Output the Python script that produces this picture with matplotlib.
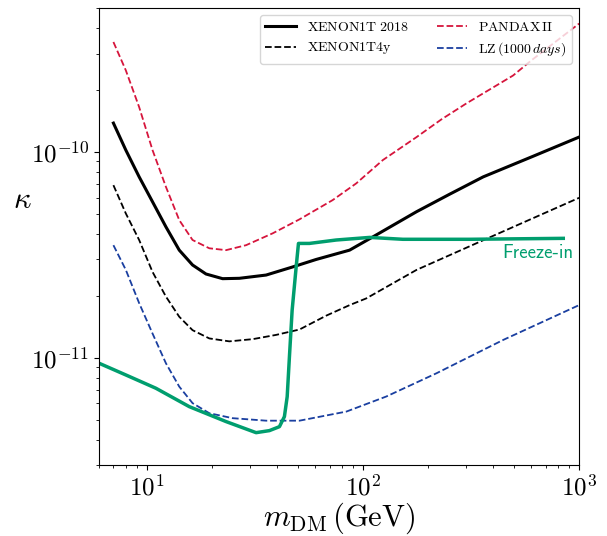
import matplotlib
matplotlib.use("Agg")
import matplotlib.pyplot as plt

plt.rcParams["mathtext.fontset"] = "cm"
plt.rcParams["font.family"] = "serif"
plt.rcParams["font.serif"] = ["cmr10"]
plt.rcParams["axes.formatter.use_mathtext"] = True

# XENON1T 2018 (solid black)
x_xenon = [7.0, 7.99, 9.21, 10.62, 12.25, 14.12, 16.27, 18.77, 22.41, 26.79, 35.62, 47.31,
           60.7, 86.7, 111, 177, 252, 360, 614, 1000]
y_xenon = [1.38e-10, 1.02e-10, 7.56e-11, 5.72e-11, 4.32e-11, 3.33e-11, 2.82e-11, 2.55e-11,
           2.42e-11, 2.43e-11, 2.52e-11, 2.76e-11, 3.00e-11, 3.33e-11, 3.86e-11, 5.12e-11,
           6.23e-11, 7.56e-11, 9.53e-11, 1.18e-10]

# XENON1T 4y projection (dashed black)
x_xenon4y = [7.0, 7.99, 9.21, 10.62, 12.25, 14.12, 16.27, 19.45, 24.07, 30.88, 39.63, 50.83,
             67.6, 86.7, 103.5, 177, 360, 1000]
y_xenon4y = [6.89e-11, 5.02e-11, 3.73e-11, 2.61e-11, 1.98e-11, 1.58e-11, 1.36e-11, 1.24e-11,
             1.20e-11, 1.23e-11, 1.29e-11, 1.37e-11, 1.60e-11, 1.80e-11, 1.94e-11, 2.67e-11,
             3.72e-11, 5.98e-11]

# PANDAX II (dashed red)
x_pandax = [7.0, 7.99, 9.21, 10.62, 12.25, 14.12, 16.27, 19.45, 23.25, 28.77, 38.22, 50.83,
            72.4, 93.1, 123.5, 177, 231, 301, 495, 603, 1000]
y_pandax = [3.42e-10, 2.49e-10, 1.65e-10, 1.02e-10, 6.76e-11, 4.66e-11, 3.73e-11, 3.40e-11,
            3.33e-11, 3.52e-11, 4.02e-11, 4.70e-11, 5.83e-11, 7.03e-11, 9.12e-11, 1.18e-10,
            1.44e-10, 1.72e-10, 2.35e-10, 2.79e-10, 4.2e-10]

# LZ 1000 days (dashed blue)
x_lz = [7.0, 7.99, 9.21, 10.62, 12.25, 14.12, 16.27, 19.45, 24.94, 35.62, 50.83, 83.8, 128,
        219, 446, 1000]
y_lz = [3.52e-11, 2.67e-11, 1.84e-11, 1.31e-11, 9.39e-12, 7.23e-12, 6.01e-12, 5.37e-12,
        5.08e-12, 4.94e-12, 4.94e-12, 5.47e-12, 6.47e-12, 8.40e-12, 1.22e-11, 1.80e-11]

# Freeze-in line (solid green)
x_freeze = [6.0, 7.99, 11.01, 15.71, 23.25, 32.02, 36.90, 41.06, 43.29, 44.59, 45.67, 47.01,
            49.07, 50.29, 56.5, 75.2, 107.4, 153, 312, 845]
y_freeze = [9.4e-12, 8.24e-12, 7.10e-12, 5.78e-12, 4.89e-12, 4.32e-12, 4.42e-12, 4.62e-12,
            5.17e-12, 6.46e-12, 1.01e-11, 1.70e-11, 2.76e-11, 3.59e-11, 3.59e-11, 3.73e-11,
            3.84e-11, 3.76e-11, 3.76e-11, 3.80e-11]

x_ticks = [10, 100, 1000]
y_ticks = [1e-11, 1e-10]

fig = plt.figure(figsize=(6.07, 5.36), dpi=100)
ax = fig.add_axes([0.163, 0.132, 0.791, 0.853])

ax.plot(x_xenon, y_xenon, color="black", lw=2.2, label=r"$\mathrm{XENON1T\ 2018}$")
ax.plot(x_xenon4y, y_xenon4y, color="black", lw=1.3, ls="--", label=r"$\mathrm{XENON1T4y}$")
ax.plot(x_pandax, y_pandax, color="#d6153c", lw=1.3, ls="--", label=r"$\mathrm{PANDAX\,II}$")
ax.plot(x_lz, y_lz, color="#1a3fa0", lw=1.3, ls="--", label=r"$\mathrm{LZ}\,(1000\,days)$")
ax.plot(x_freeze, y_freeze, color="#009e6e", lw=2.5)
ax.text(645, 3.22e-11, "Freeze-in", color="#009e6e", fontsize=13.5,
        family=["cmss10", "DejaVu Sans"], ha="center", va="center")

ax.set_xscale("log")
ax.set_yscale("log")
ax.set_xticks(x_ticks)
ax.set_yticks(y_ticks)
ax.set_xlim(6, 1000)
ax.set_ylim(3e-12, 5e-10)
ax.tick_params(labelsize=18)
ax.set_xlabel(r"$m_{\mathrm{DM}}\,(\mathrm{GeV})$", fontsize=22, labelpad=0)
ax.set_ylabel(r"$\kappa$", fontsize=22, rotation=0)
ax.yaxis.set_label_coords(-0.16, 0.55)
ax.legend(loc="upper right", ncol=2, fontsize=10, handlelength=2.2)

fig.savefig("out.png", dpi=100)
